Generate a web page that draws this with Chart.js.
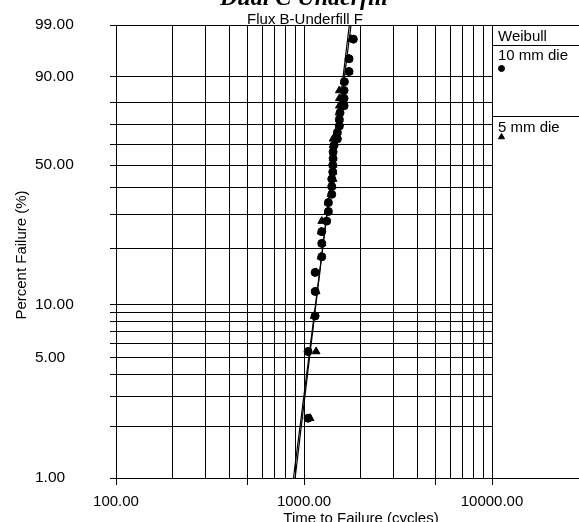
<!DOCTYPE html>
<html>
<head>
<meta charset="utf-8">
<script src="https://cdn.jsdelivr.net/npm/chart.js@4/dist/chart.umd.min.js"></script>
<style>
  html, body { margin: 0; padding: 0; background: #fff; }
  canvas { display: block; }
</style>
</head>
<body>
<canvas id="weibullChart" width="579" height="522"></canvas>
<script>
// axis grid / tick values
const yGrid = [1, 2, 3, 4, 5, 6, 7, 8, 9, 10, 20, 30, 40, 50, 60, 70, 80, 90, 99];
const yLabels = [1, 5, 10, 50, 90, 99];
const xGrid = [100, 200, 300, 400, 500, 600, 700, 800, 900,
               1000, 2000, 3000, 4000, 5000, 6000, 7000, 8000, 9000, 10000];
const xLabels = [100, 1000, 10000];
const xMajor = [100, 500, 1000, 5000, 10000];

// median rank plotting positions (%)
const rankPct = [2.23, 5.41, 8.60, 11.78, 14.97, 18.15, 21.34, 24.52, 27.71, 30.89,
                 34.08, 37.26, 40.45, 43.63, 46.82, 50.00, 53.18, 56.37, 59.55, 62.74,
                 65.92, 69.11, 72.29, 75.48, 78.66, 81.85, 85.03, 88.22, 91.40, 94.59, 97.77];

// cycles to failure
const cycles10mm = [1051, 1051, 1146, 1146, 1146, 1243, 1243, 1243, 1321, 1348,
                    1348, 1405, 1405, 1405, 1422, 1422, 1428, 1428, 1445, 1505,
                    1505, 1542, 1542, 1555, 1634, 1634, 1634, 1640, 1736, 1736, 1830];
const cycles5mm = [1078, 1160, 1132, 1160, 1160, 1233, 1248, 1233, 1243, 1343,
                   1343, 1393, 1410, 1428, 1428, 1428, 1428, 1428, 1428, 1428,
                   1500, 1537, 1542, 1537, 1542, 1542, 1542, 1634, 1736, 1736, 1780];

// fitted Weibull lines (ends at 1% and 99%)
const fitPct = [1, 99];
const fit10mm = [879, 1779];
const fit5mm = [897, 1742];

// Weibull probability scale: ln(-ln(1-F))
const wb = p => Math.log(-Math.log(1 - p / 100));

class WeibullScale extends Chart.Scale {
  determineDataLimits() {
    this.min = this.options.min;
    this.max = this.options.max;
  }
  buildTicks() {
    return yGrid.map(v => ({ value: v }));
  }
  getLabelForValue(v) {
    return v.toFixed(2);
  }
  configure() {
    super.configure();
    this._w0 = wb(this.min);
    this._w1 = wb(this.max);
  }
  getPixelForValue(v) {
    return this.getPixelForDecimal((wb(v) - this._w0) / (this._w1 - this._w0));
  }
  getValueForPixel(px) {
    const w = this._w0 + this.getDecimalForPixel(px) * (this._w1 - this._w0);
    return 100 * (1 - Math.exp(-Math.exp(w)));
  }
}
WeibullScale.id = 'weibull';
WeibullScale.defaults = {};
Chart.register(WeibullScale);

const pts = (xs, ys) => xs.map((x, i) => ({ x: x, y: ys[i] }));
const align = p => Math.round(p - 0.5) + 0.5;

const extras = {
  id: 'extras',
  afterDraw(chart) {
    const ctx = chart.ctx;
    const area = chart.chartArea;
    const ys = chart.scales.y;
    const W = chart.width;
    ctx.save();
    ctx.strokeStyle = '#000';
    ctx.lineWidth = 1;
    const yTop = align(ys.getPixelForValue(99));
    const yBot = align(ys.getPixelForValue(1));
    ctx.beginPath();
    ctx.moveTo(area.right, yTop); ctx.lineTo(W, yTop);
    ctx.moveTo(area.right, yBot); ctx.lineTo(W, yBot);
    ctx.moveTo(area.right, 45.5); ctx.lineTo(W, 45.5);
    ctx.moveTo(area.right, 116.5); ctx.lineTo(W, 116.5);
    ctx.stroke();

    ctx.fillStyle = '#000';
    ctx.textBaseline = 'alphabetic';
    ctx.font = '15px "Liberation Sans", Arial, sans-serif';
    ctx.textAlign = 'left';
    ctx.fillText('Weibull', 498, 41);
    ctx.fillText('10 mm die', 498, 60);
    ctx.fillText('5 mm die', 498, 131.5);
    Chart.helpers.drawPoint(ctx, { pointStyle: 'circle', radius: 3, borderWidth: 1 }, 501.5, 68.5);
    Chart.helpers.drawPoint(ctx, { pointStyle: 'triangle', radius: 3.5, borderWidth: 1 }, 501.5, 137);

    ctx.textAlign = 'center';
    ctx.fillText('Flux B-Underfill F', 305, 24);
    ctx.fillText('Time to Failure (cycles)', 361, 523);

    ctx.font = 'bold italic 24px "Liberation Serif", "Times New Roman", serif';
    ctx.fillText('Dual C Underfill', 304, 5);

    ctx.font = '15px "Liberation Sans", Arial, sans-serif';
    ctx.translate(22, 255);
    ctx.rotate(-Math.PI / 2);
    ctx.textBaseline = 'middle';
    ctx.fillText('Percent Failure (%)', 0, 0);
    ctx.restore();
  }
};

Chart.defaults.font.family = '"Liberation Sans", Arial, sans-serif';
Chart.defaults.font.size = 15;
Chart.defaults.color = '#000';

new Chart(document.getElementById('weibullChart').getContext('2d'), {
  type: 'scatter',
  data: {
    datasets: [
      {
        label: '10 mm die',
        data: pts(cycles10mm, rankPct),
        pointStyle: 'circle',
        pointRadius: 4,
        backgroundColor: '#000',
        borderColor: '#000',
        borderWidth: 1
      },
      {
        label: '5 mm die',
        data: pts(cycles5mm, rankPct),
        pointStyle: 'triangle',
        pointRadius: 4.5,
        backgroundColor: '#000',
        borderColor: '#000',
        borderWidth: 1
      },
      {
        label: 'fit 10 mm',
        data: pts(fit10mm, fitPct),
        showLine: true,
        pointRadius: 0,
        borderColor: '#000',
        borderWidth: 1.2
      },
      {
        label: 'fit 5 mm',
        data: pts(fit5mm, fitPct),
        showLine: true,
        pointRadius: 0,
        borderColor: '#000',
        borderWidth: 1.2
      }
    ]
  },
  options: {
    responsive: false,
    animation: false,
    devicePixelRatio: 1,
    layout: { padding: { top: 25, right: 87, left: 35, bottom: 0 } },
    plugins: {
      legend: { display: false },
      tooltip: { enabled: false },
      title: { display: false }
    },
    scales: {
      x: {
        type: 'logarithmic',
        min: 100,
        max: 10000,
        afterBuildTicks: s => { s.ticks = xGrid.map(v => ({ value: v })); },
        afterFit: s => { s.height = 44; },
        grid: {
          color: '#000',
          lineWidth: 1,
          tickLength: 7,
          tickColor: c => (c.tick && xMajor.includes(c.tick.value)) ? '#000' : 'rgba(0,0,0,0)'
        },
        border: { color: '#000', width: 1 },
        ticks: {
          autoSkip: false,
          maxRotation: 0,
          padding: 8,
          callback: v => xLabels.includes(v) ? v.toFixed(2) : ''
        }
      },
      y: {
        type: 'weibull',
        min: 1,
        max: 99,
        afterFit: s => { s.width = 81; },
        grid: { color: '#000', lineWidth: 1, tickLength: 6, tickColor: '#000' },
        border: { color: '#000', width: 1 },
        ticks: {
          autoSkip: false,
          crossAlign: 'far',
          font: { size: 15.5 },
          callback: v => yLabels.includes(v) ? v.toFixed(2) : ''
        }
      }
    }
  },
  plugins: [extras]
});
</script>
</body>
</html>
